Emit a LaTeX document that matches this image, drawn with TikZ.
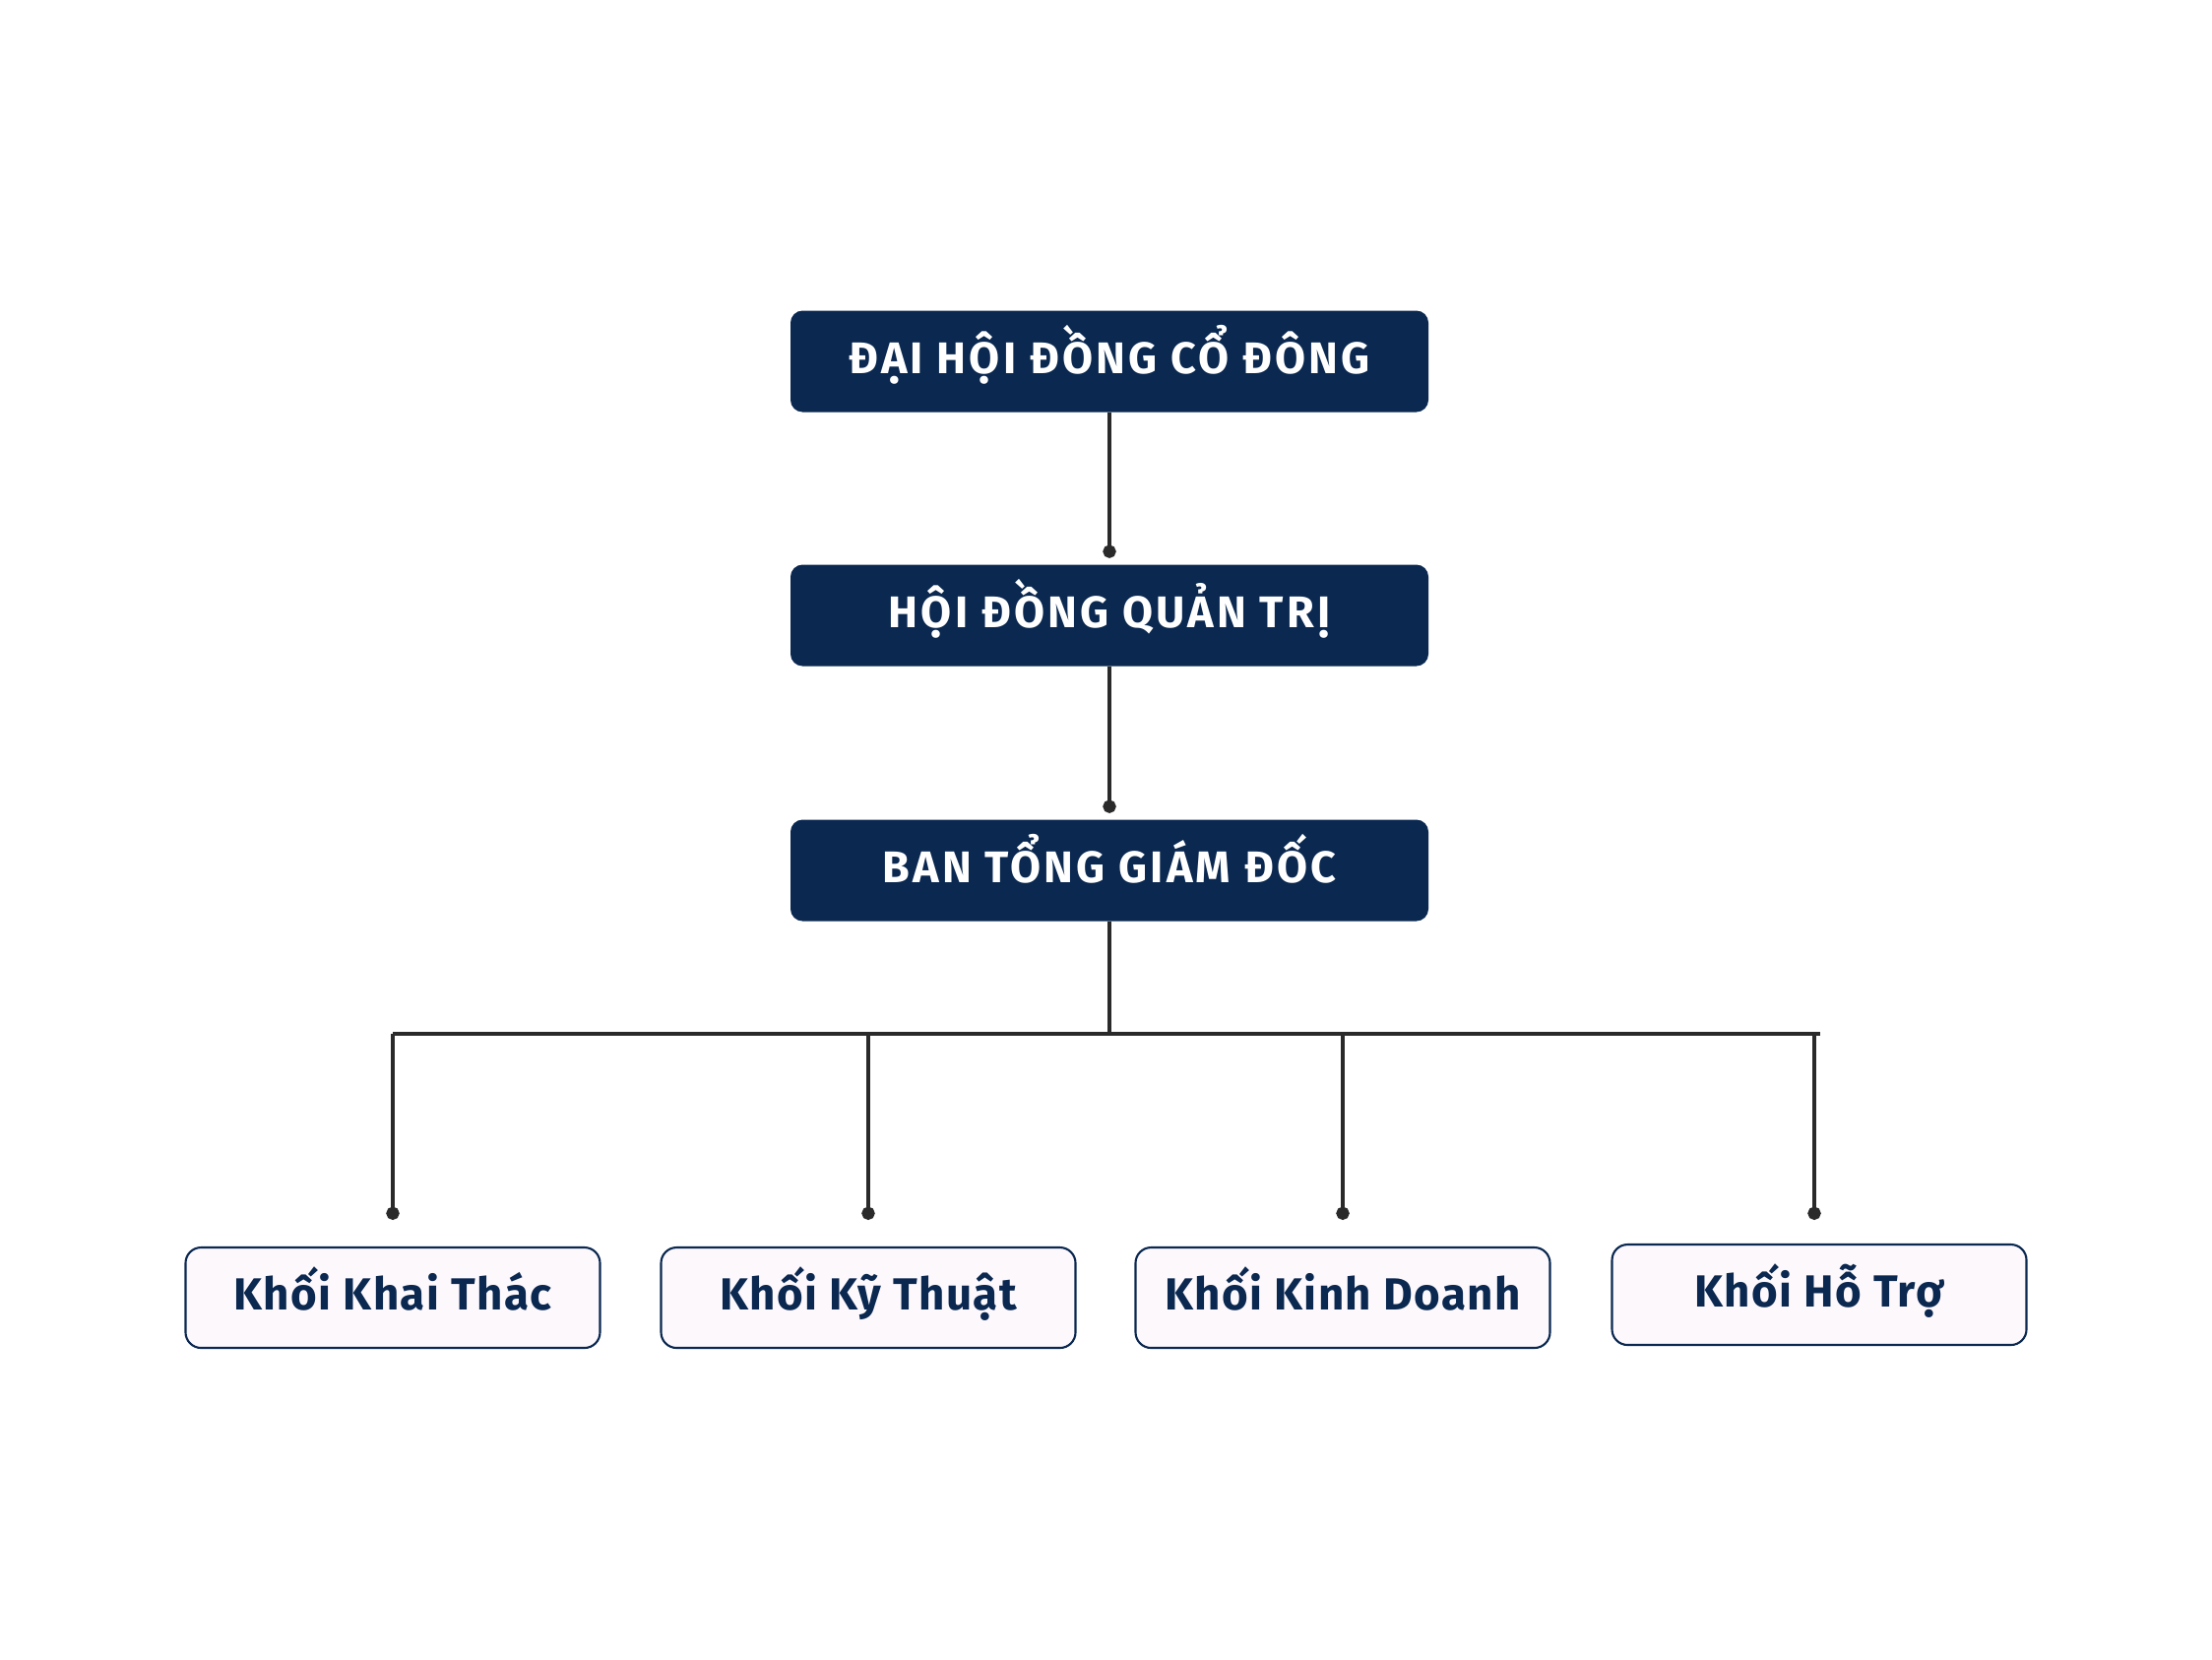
\documentclass[tikz,border=0pt]{standalone}
\usepackage{fontspec}
\setmainfont{Fira Sans}
\usepackage{tikz}
\usetikzlibrary{arrows.meta,positioning,calc}
\definecolor{navy}{HTML}{0A2850}
\definecolor{ink}{HTML}{2A2A2A}
\definecolor{softpink}{HTML}{FDF8FC}

\begin{document}
\begin{tikzpicture}[
  topbox/.style={rounded corners=3.5pt, fill=navy, text=white, inner sep=0pt, minimum width=6.48cm, minimum height=1.03cm, text height=0.69em, text depth=0pt, font=\fontsize{12.8}{14}\selectfont\bfseries\addfontfeatures{LetterSpace=7}},
  unitbox/.style={rounded corners=4.5pt, draw=navy, line width=0.6pt, fill=softpink, text=navy, inner sep=0pt, minimum width=4.21cm, minimum height=1.02cm, text height=0.69em, text depth=0pt, font=\fontsize{13}{15}\selectfont\bfseries\addfontfeatures{LetterSpace=3}},
  link/.style={line width=0.9pt, draw=ink},
  dotlink/.style={link, -{Circle[length=3.8pt]}}
]
\fill[white] (0,0) rectangle (22.47,-16.85);
\useasboundingbox (0,0) rectangle (22.47,-16.85);

\node[topbox] (dh) at (11.27,-3.67) {ĐẠI HỘI ĐỒNG CỔ ĐÔNG};
\node[topbox] (hd) at (11.27,-6.25) {HỘI ĐỒNG QUẢN TRỊ};
\node[topbox] (bt) at (11.27,-8.84) {BAN TỔNG GIÁM ĐỐC};

\node[unitbox] (k1) at (3.99,-13.18) {Khối Khai Thác};
\node[unitbox] (k2) at (8.82,-13.18) {Khối Kỹ Thuật};
\node[unitbox] (k3) at (13.64,-13.18) {Khối Kinh Doanh};
\node[unitbox] (k4) at (18.48,-13.15) {Khối Hỗ Trợ};

\coordinate (bus) at (11.27,-10.50);
\coordinate (busR) at (18.49,-10.50);

\draw[dotlink] (dh.south) -- ([yshift=0.06cm]hd.north);
\draw[dotlink] (hd.south) -- ([yshift=0.06cm]bt.north);
\draw[link] (bt.south) -- (bus);
\draw[link] (k1.north |- bus) -- (busR);

\draw[dotlink] (k1.north |- bus) -- ([yshift=0.27cm]k1.north);
\draw[dotlink] (k2.north |- bus) -- ([yshift=0.27cm]k2.north);
\draw[dotlink] (k3.north |- bus) -- ([yshift=0.27cm]k3.north);
\draw[dotlink] ([xshift=-0.05cm]k4.north |- bus) -- ([xshift=-0.05cm,yshift=0.24cm]k4.north);

\end{tikzpicture}
\end{document}
